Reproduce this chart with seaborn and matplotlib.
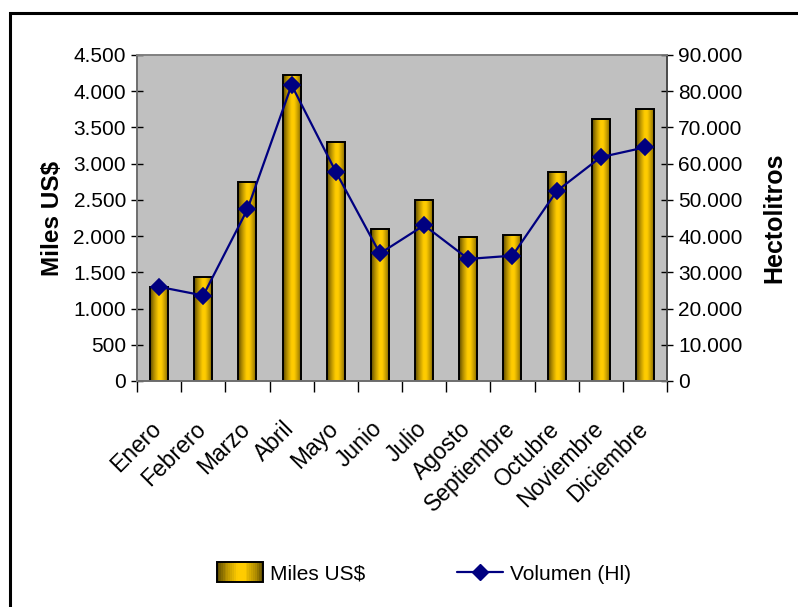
import numpy as np
import pandas as pd
import matplotlib
matplotlib.use("Agg")
import matplotlib.pyplot as plt
import matplotlib.transforms as mtransforms
import seaborn as sns
from matplotlib.colors import LinearSegmentedColormap
from matplotlib.patches import Rectangle
from matplotlib.lines import Line2D
from matplotlib.legend_handler import HandlerBase
from matplotlib.ticker import FuncFormatter, MultipleLocator, FixedLocator

meses = ["Enero", "Febrero", "Marzo", "Abril", "Mayo", "Junio", "Julio",
         "Agosto", "Septiembre", "Octubre", "Noviembre", "Diciembre"]
miles_usd = [1300, 1430, 2750, 4220, 3300, 2100, 2500, 1990, 2010, 2890, 3610, 3750]
volumen_hl = [26000, 23600, 47400, 81700, 57800, 35200, 43000, 33700, 34600, 52400, 61800, 64500]

df = pd.DataFrame({"Mes": meses, "Miles US$": miles_usd, "Volumen (Hl)": volumen_hl})

sns.set_theme(style="white")
plt.rcParams["font.family"] = ["Liberation Sans", "DejaVu Sans"]
for k in ("text.color", "axes.labelcolor", "xtick.color", "ytick.color"):
    plt.rcParams[k] = "black"

fig = plt.figure(figsize=(7.98, 6.07), dpi=100)
W, H = 798, 607
ax = fig.add_axes([137 / W, 1 - 381 / H, (667 - 137) / W, (381 - 55) / H])
ax.set_facecolor("#C0C0C0")

cmap = LinearSegmentedColormap.from_list(
    "gold", [(0.0, "#5c4a00"), (0.2, "#b08c00"), (0.45, "#ffcc00"),
             (0.6, "#ffcc00"), (0.85, "#b08c00"), (1.0, "#5c4a00")])

sns.barplot(data=df, x="Mes", y="Miles US$", ax=ax, width=0.41,
            color="#FFCC00", edgecolor="black", linewidth=1.4, zorder=2)

grad = np.linspace(0, 1, 64).reshape(1, -1)
for p in list(ax.patches):
    x0, y0 = p.get_x(), p.get_y()
    w, h = p.get_width(), p.get_height()
    ax.imshow(grad, extent=[x0, x0 + w, y0, y0 + h], aspect="auto",
              cmap=cmap, zorder=2.5, interpolation="bicubic")
    p.set_facecolor("none")
    p.set_zorder(3)

ax.set_xlim(-0.5, 11.5)
ax.set_ylim(0, 4500)
ax.yaxis.set_major_locator(MultipleLocator(500))
fmt = FuncFormatter(lambda v, pos: f"{int(round(v)):,}".replace(",", "."))
ax.yaxis.set_major_formatter(fmt)

ax2 = ax.twinx()
sns.pointplot(data=df, x="Mes", y="Volumen (Hl)", ax=ax2, color="#000080",
              markers="D", linestyles="-", markersize=8.5, linewidth=1.6,
              errorbar=None, zorder=5)
ax2.set_xlim(-0.5, 11.5)
ax2.set_ylim(0, 90000)
ax2.yaxis.set_major_locator(MultipleLocator(10000))
ax2.yaxis.set_major_formatter(fmt)

# ticks
ax.set_xticks(range(12))
ax.set_xticklabels(meses, rotation=45, ha="right", va="top",
                   rotation_mode="anchor", fontsize=16.5)
ax.tick_params(axis="x", which="major", length=0, pad=26)
offset = mtransforms.ScaledTranslation(-9 / 100, 0, fig.dpi_scale_trans)
for lbl in ax.get_xticklabels():
    lbl.set_transform(lbl.get_transform() + offset)
ax.xaxis.set_minor_locator(FixedLocator(np.arange(-0.5, 12, 1)))
ax.tick_params(axis="x", which="minor", length=8, width=1, color="black",
               direction="out", bottom=True)
ax.tick_params(axis="y", which="major", length=8, width=1, color="black",
               direction="inout", labelsize=15, pad=4, left=True)
ax2.tick_params(axis="y", which="major", length=8, width=1, color="black",
                direction="inout", labelsize=15, pad=4, right=True)
ax2.set_xlabel("")
ax.set_xlabel("")

ax.set_ylabel("Miles US$", fontsize=17.5, fontweight="bold", labelpad=7)
ax2.set_ylabel("Hectolitros", fontsize=18, fontweight="bold", labelpad=14)

for a in (ax, ax2):
    for s in a.spines.values():
        s.set_color("#808080")
        s.set_linewidth(1.2)
ax.spines["left"].set_color("black")
ax.spines["bottom"].set_color("black")
ax2.spines["right"].set_color("#404040")


class GradientPatchHandler(HandlerBase):
    def create_artists(self, legend, orig_handle, xdescent, ydescent,
                       width, height, fontsize, trans):
        arts = []
        n = 24
        for i in range(n):
            r = Rectangle((-xdescent + width * i / n, -ydescent - 2),
                          width / n + 0.3, height + 4,
                          facecolor=cmap((i + 0.5) / n), edgecolor="none",
                          transform=trans)
            arts.append(r)
        arts.append(Rectangle((-xdescent, -ydescent - 2), width, height + 4,
                              facecolor="none", edgecolor="black", lw=1.4,
                              transform=trans))
        return arts


bar_handle = Rectangle((0, 0), 1, 1)
line_handle = Line2D([], [], color="#000080", marker="D", markersize=8, lw=1.6)
fig.legend([bar_handle, line_handle], ["Miles US$", "Volumen (Hl)"],
           handler_map={Rectangle: GradientPatchHandler()},
           loc="center", bbox_to_anchor=(424 / W, 1 - 574 / H), ncol=2,
           frameon=False, fontsize=15, handlelength=2.2, handletextpad=0.35,
           columnspacing=4.4)

# outer chart border (cut off at right/bottom in the reference)
fig.patches.append(Rectangle((10 / W, -0.05), 1.1, 1 - 13 / H + 0.05,
                             transform=fig.transFigure, fill=False,
                             edgecolor="black", lw=2.2))

fig.savefig("out.png", dpi=100)
